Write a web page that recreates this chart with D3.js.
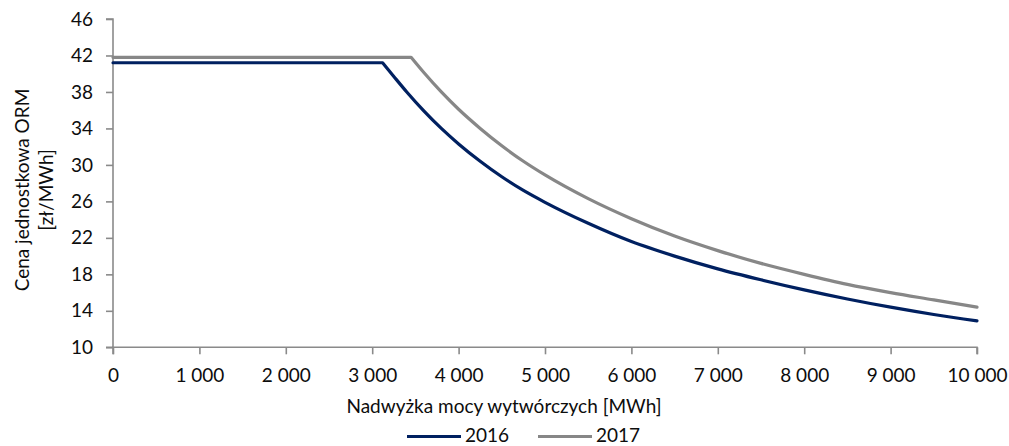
<!DOCTYPE html>
<html>
<head>
<meta charset="utf-8">
<script src="https://cdn.jsdelivr.net/npm/d3@7"></script>
<style>
  html, body { margin: 0; padding: 0; background: #fff; }
  svg { display: block; font-family: Lato, "Open Sans", sans-serif; }
</style>
</head>
<body>
<svg id="chart" width="1009" height="446"></svg>
<script>
// Surplus of generating capacity [MWh] vs. unit price [zł/MWh]
const surplus2016 = [0, 3120, 3250, 3400, 3600, 3800, 4000, 4250, 4500, 4750, 5000, 5500, 6000, 6500, 7000, 7500, 8000, 8500, 9000, 9500, 10000];
const price2016   = [41.2, 41.2, 39.7, 38.0, 35.9, 34.0, 32.3, 30.4, 28.7, 27.2, 25.9, 23.6, 21.6, 20.0, 18.6, 17.4, 16.3, 15.3, 14.4, 13.6, 12.9];

const surplus2017 = [0, 3450, 3600, 3800, 4000, 4250, 4500, 4750, 5000, 5500, 6000, 6500, 7000, 7500, 8000, 8500, 9000, 9500, 10000];
const price2017   = [41.8, 41.8, 40.1, 38.0, 36.1, 34.0, 32.1, 30.4, 28.9, 26.3, 24.1, 22.2, 20.6, 19.2, 18.0, 16.9, 16.0, 15.2, 14.4];

const xTicks = [0, 1000, 2000, 3000, 4000, 5000, 6000, 7000, 8000, 9000, 10000];
const yTicks = [10, 14, 18, 22, 26, 30, 34, 38, 42, 46];

const seriesNames = ["2016", "2017"];
const seriesColors = ["#002060", "#878787"];

const svg = d3.select("#chart");
const textColor = "#0d0d0d";
const axisColor = "#8a8a8a";
const fontSize = "19px";

const x = d3.scaleLinear().domain([0, 10000]).range([113, 977]);
const y = d3.scaleLinear().domain([10, 46]).range([347.3, 19]);

// Polish-style thousands separator (space)
const fmtThousands = d => d3.format(",")(d).replace(/,/g, "\u00a0");

// Y axis
const yAxis = svg.append("g")
  .attr("transform", `translate(${x(0)},0)`)
  .call(d3.axisLeft(y).tickValues(yTicks).tickSize(7).tickPadding(13).tickFormat(d3.format("d")));

// X axis
const xAxis = svg.append("g")
  .attr("transform", `translate(0,${y(10)})`)
  .call(d3.axisBottom(x).tickValues(xTicks).tickSize(7).tickPadding(14).tickFormat(fmtThousands));

[yAxis, xAxis].forEach(g => {
  g.select(".domain").attr("stroke", axisColor).attr("stroke-width", 1.6);
  g.selectAll(".tick line").attr("stroke", axisColor).attr("stroke-width", 1.6);
  g.selectAll(".tick text")
    .attr("fill", textColor)
    .style("font-size", fontSize)
    .style("font-family", "Lato, 'Open Sans', sans-serif");
});
yAxis.select(".domain").attr("d", `M-7,${y(10)}H0V${y(46)}H-7`);
xAxis.select(".domain").attr("d", `M${x(0)},7V0H${x(10000)}V7`);

// Series: flat cap segment drawn straight, decay segment smoothed
const lineFlat = d3.line().x(d => x(d[0])).y(d => y(d[1]));
const lineCurve = d3.line().x(d => x(d[0])).y(d => y(d[1])).curve(d3.curveMonotoneX);

function seriesPath(xs, ys) {
  const pts = xs.map((v, i) => [v, ys[i]]);
  const flat = pts.slice(0, 2);
  const decay = pts.slice(1);
  return lineFlat(flat) + lineCurve(decay).replace(/^M/, "L");
}

const plot = svg.append("g");
[[surplus2017, price2017, 1], [surplus2016, price2016, 0]].forEach(([xs, ys, idx]) => {
  plot.append("path")
    .attr("d", seriesPath(xs, ys))
    .attr("fill", "none")
    .attr("stroke", seriesColors[idx])
    .attr("stroke-width", 3.2)
    .attr("stroke-linejoin", "round")
    .attr("stroke-linecap", "round");
});

// Axis titles
svg.append("text")
  .attr("x", 504).attr("y", 413)
  .attr("text-anchor", "middle")
  .attr("fill", textColor)
  .style("font-size", fontSize)
  .text("Nadwyżka mocy wytwórczych [MWh]");

const yTitle = svg.append("text")
  .attr("transform", "translate(0,190) rotate(-90)")
  .attr("text-anchor", "middle")
  .attr("fill", textColor)
  .style("font-size", fontSize);
yTitle.append("tspan").attr("x", 0).attr("y", 29).text("Cena jednostkowa ORM");
yTitle.append("tspan").attr("x", 0).attr("y", 53).text("[zł/MWh]");

// Legend
const legendItems = [
  { name: seriesNames[0], color: seriesColors[0], x0: 407 },
  { name: seriesNames[1], color: seriesColors[1], x0: 538 }
];
const legend = svg.append("g");
legendItems.forEach(item => {
  legend.append("line")
    .attr("x1", item.x0).attr("x2", item.x0 + 54)
    .attr("y1", 436.5).attr("y2", 436.5)
    .attr("stroke", item.color)
    .attr("stroke-width", 3.2);
  legend.append("text")
    .attr("x", item.x0 + 58).attr("y", 442)
    .attr("fill", textColor)
    .style("font-size", fontSize)
    .text(item.name);
});
</script>
</body>
</html>
